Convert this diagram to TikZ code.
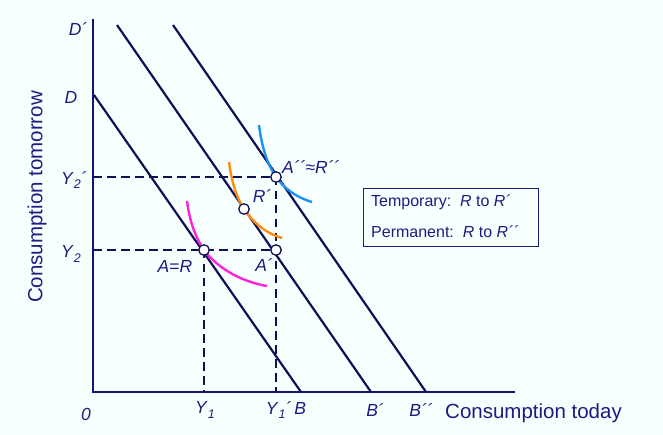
\documentclass[tikz,border=0pt]{standalone}
\usepackage{fontspec}
\setmainfont{Liberation Sans}
\definecolor{bg}{HTML}{F8FFFF}
\definecolor{ink}{HTML}{1C1C80}
\definecolor{axis}{HTML}{141478}
\definecolor{budget}{HTML}{101058}
\definecolor{mag}{HTML}{FF22DD}
\definecolor{org}{HTML}{FF8C10}
\definecolor{sky}{HTML}{1E90F0}
\newcommand{\pr}{\textit{´}}
\newcommand{\lowsub}[1]{\raisebox{-0.45ex}{\fontsize{12.5}{12.5}\selectfont\textit{#1}}}
\tikzset{
  lbl/.style={text=ink, font=\fontsize{17.5}{19}\selectfont, inner sep=0pt},
  title/.style={text=ink, font=\fontsize{20.5}{23}\selectfont, inner sep=0pt},
  legtext/.style={text=ink, font=\fontsize{16}{18}\selectfont, inner sep=0pt, anchor=west},
  axisline/.style={draw=axis, line width=2.4pt},
  budgetline/.style={draw=budget, line width=2.2pt},
  guide/.style={draw=budget, line width=2.2pt, dash pattern=on 8.5pt off 5.5pt},
  indiff/.style={line width=2.4pt},
  pt/.style={circle, draw=budget, fill=white, line width=1.3pt, minimum size=10.5pt, inner sep=0pt},
}
\begin{document}
\begin{tikzpicture}[x=1pt,y=-1pt]
\fill[bg] (0,0) rectangle (663,435);
\useasboundingbox (0,0) rectangle (663,435);
% axes
\coordinate (top) at (93,19);
\coordinate (O) at (93,392);
\coordinate (right) at (515,392);
\draw[axisline] (top) -- (O) -- (right);
% budget lines
\coordinate (D) at (94,95);
\coordinate (B) at (301,392);
\coordinate (Dp) at (117,25);
\coordinate (Bp) at (371,392);
\coordinate (Dpp) at (173,25);
\coordinate (Bpp) at (426,392);
\draw[budgetline] (D) -- (B);
\draw[budgetline] (Dp) -- (Bp);
\draw[budgetline] (Dpp) -- (Bpp);
% key points
\coordinate (A) at (204,250);
\coordinate (Ap) at (276,250);
\coordinate (Rp) at (244,209);
\coordinate (App) at (276,177);
\coordinate (Y2a) at (93,250);
\coordinate (Y2b) at (93,177);
\coordinate (Y1a) at (204,392);
\coordinate (Y1b) at (276,392);
% guides
\draw[guide] (Y2a) -- (Ap);
\draw[guide] (Y2b) -- (App);
\draw[guide] (A) -- (Y1a);
\draw[guide] (App) -- (Y1b);
% indifference curves
\draw[indiff, mag] (187,201) .. controls (190,225) and (197.5,240.6) .. (A)
  .. controls (211,260) and (232,280) .. (267,286);
\draw[indiff, org] (229,162) .. controls (232,185) and (238,200) .. (Rp)
  .. controls (251,219) and (262,232) .. (282,238);
\draw[indiff, sky] (259,125) .. controls (262,150) and (269,167) .. (App)
  .. controls (283,187) and (295,197) .. (312,202);
% points
\node[pt] (pA) at (A) {};
\node[pt] (pAp) at (Ap) {};
\node[pt] (pRp) at (Rp) {};
\node[pt] (pApp) at (App) {};
% labels
\node[lbl] (lDp) at (78,29) {\textit{D}\pr};
\node[lbl] (lD) at (71,97) {\textit{D}};
\node[lbl] (lY2p) at (74,180) {\textit{Y}\lowsub{2}\pr};
\node[lbl] (lY2) at (71,254) {\textit{Y}\lowsub{2}};
\node[lbl] (l0) at (86,414) {\textit{0}};
\node[lbl] (lY1) at (205,410) {\textit{Y}\lowsub{1}};
\node[lbl] (lY1B) at (286,410) {\textit{Y}\lowsub{1}\pr\,\textit{B}};
\node[lbl] (lBp) at (375,410) {\textit{B}\pr};
\node[lbl] (lBpp) at (421,410) {\textit{B}\pr\pr};
\node[title, anchor=west] (lx) at (445,413) {Consumption today};
\node[title, rotate=90] (ly) at (37,197) {Consumption tomorrow};
\node[lbl] (lAR) at (175,266) {\textit{A}=\textit{R}};
\node[lbl] (lAp) at (264,265) {\textit{A}\pr};
\node[lbl] (lRp) at (262,196) {\textit{R}\pr};
\node[lbl, anchor=west] (lAR2) at (282,167) {\textit{A}\pr\pr≈\textit{R}\pr\pr};
% legend
\node[draw=ink, line width=0.9pt, fill=bg, minimum width=175pt, minimum height=58pt, anchor=north west] (legend) at (363,188) {};
\node[legtext] (t1) at (371,202) {Temporary:\ \ \textit{R} to \textit{R}\pr};
\node[legtext] (t2) at (371,232) {Permanent:\ \ \textit{R} to \textit{R}\pr\pr};
\end{tikzpicture}
\end{document}
